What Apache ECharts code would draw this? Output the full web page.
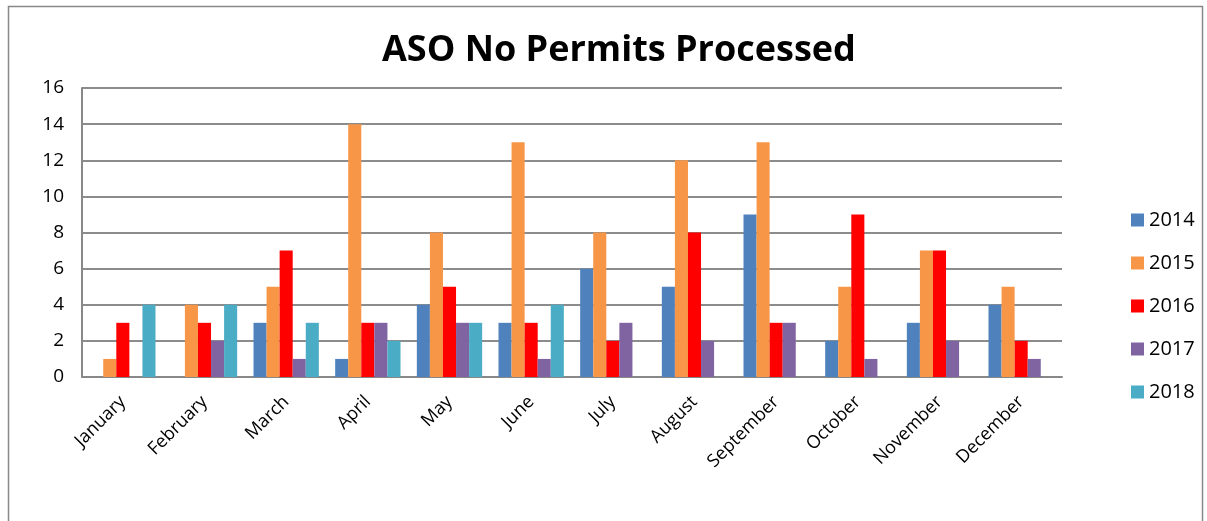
<!DOCTYPE html>
<html><head><meta charset="utf-8">
<script src="https://cdn.jsdelivr.net/npm/echarts@6/dist/echarts.min.js"></script>
<style>html,body{margin:0;padding:0;background:#fff}#c{width:1207px;height:521px}</style>
</head><body><div id="c"></div>
<script>
const months = ['January','February','March','April','May','June','July','August','September','October','November','December'];
const years = ['2014','2015','2016','2017','2018'];
const s2014 = [0,0,3,1,4,3,6,5,9,2,3,4];
const s2015 = [1,4,5,14,8,13,8,12,13,5,7,5];
const s2016 = [3,3,7,3,5,3,2,8,3,9,7,2];
const s2017 = [0,2,1,3,3,1,3,2,3,1,2,1];
const s2018 = [4,4,3,2,3,4,0,0,0,0,0,0];
const yTicks = [0,2,4,6,8,10,12,14,16];
const colors = ['#4F81BD','#F79646','#FF0000','#8064A2','#4BACC6'];
const seriesData = [s2014,s2015,s2016,s2017,s2018];
const chart = echarts.init(document.getElementById('c'));
const font = 'Open Sans, Liberation Sans, sans-serif';
chart.setOption({
  animation:false,
  title:{text:'ASO No Permits Processed',left:377,top:28,
    textStyle:{fontFamily:font,fontSize:36,fontWeight:'bold',color:'#000'}},
  graphic:[{type:'rect',shape:{x:8.5,y:6.5,width:1194,height:520},
    style:{fill:'none',stroke:'#888',lineWidth:1.5},silent:true}],
  legend:{orient:'vertical',left:1126,top:205,itemGap:23,itemWidth:13,itemHeight:13,
    icon:'rect',textStyle:{fontFamily:font,fontSize:20,color:'#000'},data:years},
  grid:{left:82,right:145,top:88,bottom:144},
  xAxis:{type:'category',data:months,
    axisLine:{show:true,lineStyle:{color:'#888',width:2}},
    axisTick:{show:false},
    axisLabel:{rotate:45,fontFamily:font,fontSize:18,color:'#000',margin:22,interval:0}},
  yAxis:{type:'value',min:0,max:16,interval:2,
    axisLine:{show:true,lineStyle:{color:'#888',width:2}},
    axisTick:{show:false},
    splitLine:{lineStyle:{color:'#8c8c8c',width:2}},
    axisLabel:{fontFamily:font,fontSize:19,color:'#000',margin:18,
      formatter:v=>yTicks.includes(v)?String(v):''}},
  series:years.map((y,i)=>({name:y,type:'bar',data:seriesData[i],
    barGap:'0%',barCategoryGap:'20%',itemStyle:{color:colors[i]}}))
});
</script></body></html>
